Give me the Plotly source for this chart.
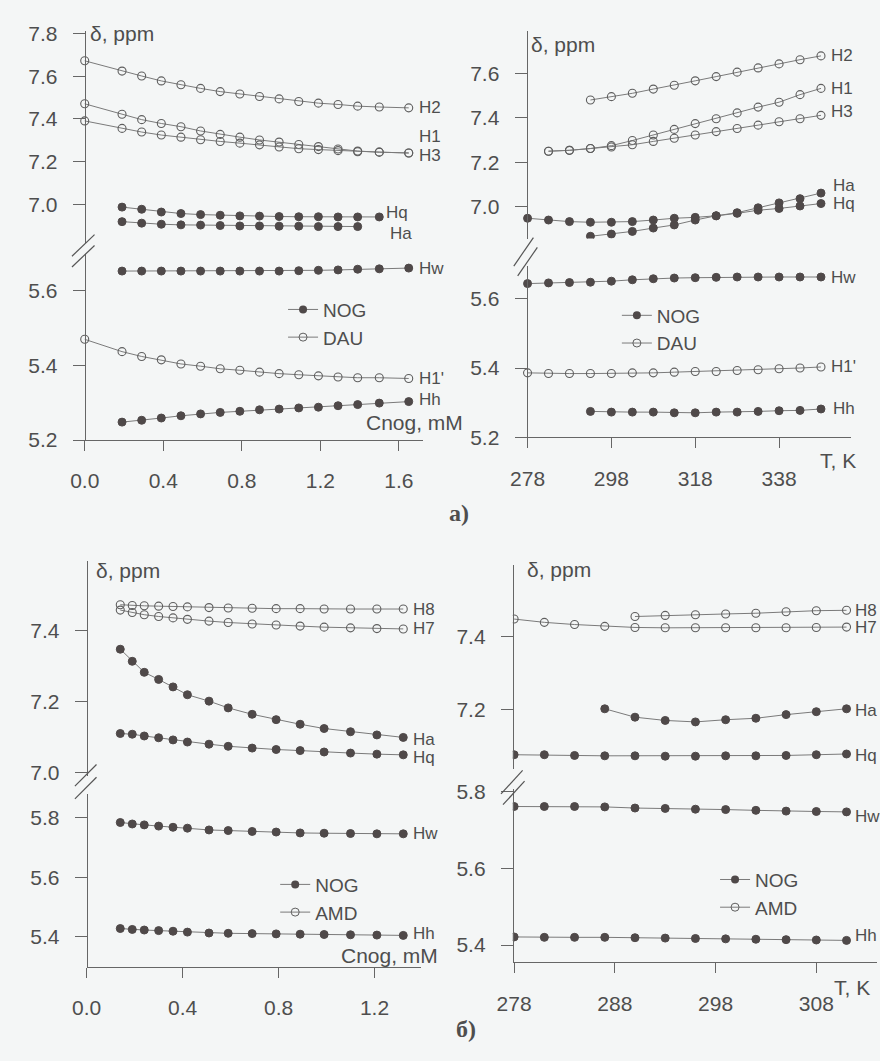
import plotly.graph_objects as go

W, H = 880, 1061

# ---------------- data: panel a) left (vs concentration) ----------------
C_DAU_A = [0, 0.19, 0.29, 0.39, 0.49, 0.59, 0.69, 0.79, 0.89, 0.99, 1.09, 1.19, 1.29, 1.39, 1.5, 1.65]
C_NOG_A = [0.19, 0.29, 0.39, 0.49, 0.59, 0.69, 0.79, 0.89, 0.99, 1.09, 1.19, 1.29, 1.39, 1.5, 1.65]
aL_H2 = [7.672, 7.624, 7.601, 7.578, 7.560, 7.543, 7.528, 7.517, 7.505, 7.494, 7.482, 7.474, 7.468, 7.460, 7.456, 7.452]
aL_H1 = [7.471, 7.422, 7.397, 7.379, 7.364, 7.344, 7.328, 7.315, 7.302, 7.292, 7.281, 7.271, 7.260, 7.250, 7.245, 7.241]
aL_H3 = [7.391, 7.356, 7.339, 7.325, 7.315, 7.303, 7.295, 7.287, 7.279, 7.269, 7.261, 7.257, 7.252, 7.247, 7.245, 7.241]
aL_H1p = [5.470, 5.437, 5.424, 5.415, 5.404, 5.398, 5.391, 5.387, 5.382, 5.378, 5.375, 5.372, 5.369, 5.367, 5.367, 5.365]
aL_Hq = [6.988, 6.978, 6.965, 6.958, 6.953, 6.950, 6.947, 6.946, 6.944, 6.943, 6.943, 6.942, 6.942, 6.942]
aL_Ha = [6.920, 6.913, 6.908, 6.905, 6.904, 6.902, 6.900, 6.900, 6.899, 6.899, 6.897, 6.897, 6.897]
aL_Hw = [5.653, 5.653, 5.653, 5.653, 5.653, 5.653, 5.653, 5.653, 5.653, 5.654, 5.655, 5.656, 5.658, 5.659, 5.661]
aL_Hh = [5.248, 5.253, 5.259, 5.265, 5.270, 5.274, 5.277, 5.281, 5.283, 5.286, 5.288, 5.292, 5.295, 5.299, 5.303]

# ---------------- data: panel a) right (vs temperature) ----------------
T_A = [278, 283, 288, 293, 298, 303, 308, 313, 318, 323, 328, 333, 338, 343, 348]
aR_H2 = [7.480, 7.495, 7.510, 7.529, 7.546, 7.566, 7.585, 7.605, 7.624, 7.642, 7.661, 7.678]
aR_H1 = [7.250, 7.254, 7.262, 7.275, 7.298, 7.323, 7.348, 7.374, 7.396, 7.422, 7.448, 7.470, 7.504, 7.532]
aR_H3 = [7.250, 7.254, 7.262, 7.269, 7.279, 7.294, 7.308, 7.323, 7.338, 7.352, 7.367, 7.382, 7.396, 7.411]
aR_H1p = [5.386, 5.384, 5.384, 5.384, 5.384, 5.386, 5.386, 5.388, 5.390, 5.390, 5.393, 5.395, 5.398, 5.400, 5.403]
aR_Hq = [6.949, 6.941, 6.934, 6.931, 6.931, 6.934, 6.941, 6.949, 6.953, 6.960, 6.971, 6.985, 6.993, 7.004, 7.015]
aR_Ha = [6.868, 6.878, 6.890, 6.905, 6.919, 6.941, 6.960, 6.974, 6.996, 7.018, 7.037, 7.062]
aR_Hw = [5.643, 5.645, 5.646, 5.647, 5.650, 5.654, 5.657, 5.659, 5.660, 5.661, 5.662, 5.662, 5.662, 5.662, 5.662]
aR_Hh = [5.275, 5.273, 5.273, 5.273, 5.271, 5.271, 5.273, 5.273, 5.275, 5.277, 5.278, 5.282]

# ---------------- data: panel б) left (vs concentration) ----------------
C_B = [0.14, 0.19, 0.24, 0.30, 0.36, 0.42, 0.51, 0.59, 0.69, 0.79, 0.89, 0.99, 1.10, 1.21, 1.32]
bL_H8 = [7.472, 7.470, 7.469, 7.468, 7.467, 7.466, 7.464, 7.463, 7.462, 7.461, 7.461, 7.460, 7.460, 7.460, 7.460]
bL_H7 = [7.457, 7.450, 7.444, 7.439, 7.435, 7.431, 7.426, 7.422, 7.418, 7.415, 7.412, 7.409, 7.407, 7.405, 7.404]
bL_Ha = [7.347, 7.313, 7.282, 7.262, 7.241, 7.219, 7.201, 7.182, 7.164, 7.149, 7.136, 7.124, 7.115, 7.106, 7.099]
bL_Hq = [7.110, 7.108, 7.103, 7.098, 7.092, 7.086, 7.080, 7.074, 7.069, 7.065, 7.062, 7.058, 7.055, 7.052, 7.050]
bL_Hw = [5.784, 5.779, 5.776, 5.772, 5.768, 5.765, 5.759, 5.757, 5.754, 5.752, 5.749, 5.748, 5.747, 5.746, 5.746]
bL_Hh = [5.428, 5.425, 5.423, 5.421, 5.419, 5.416, 5.413, 5.412, 5.411, 5.410, 5.409, 5.408, 5.407, 5.406, 5.405]

# ---------------- data: panel б) right (vs temperature) ----------------
T_B = [278, 281, 284, 287, 290, 293, 296, 299, 302, 305, 308, 311]
bR_H8 = [7.456, 7.459, 7.461, 7.463, 7.465, 7.469, 7.472, 7.473]
bR_H7 = [7.449, 7.440, 7.434, 7.429, 7.426, 7.425, 7.425, 7.425, 7.425, 7.425, 7.426, 7.427]
bR_Ha = [7.203, 7.180, 7.171, 7.167, 7.173, 7.177, 7.187, 7.195, 7.203]
bR_Hq = [7.077, 7.077, 7.075, 7.074, 7.074, 7.073, 7.073, 7.074, 7.074, 7.075, 7.077, 7.079]
bR_Hw = [5.761, 5.761, 5.761, 5.760, 5.757, 5.756, 5.754, 5.753, 5.751, 5.749, 5.748, 5.747]
bR_Hh = [5.421, 5.420, 5.420, 5.420, 5.419, 5.418, 5.417, 5.416, 5.415, 5.414, 5.413, 5.412]

# ---------------- styling ----------------
FONT = "Liberation Sans, Arial, sans-serif"
TXT = "#4e4e4e"
AX = "#666666"
LINE = "#7a7a7a"
FILL = "#4f4949"
BG = "#f4f6f6"


def px_x(p):
    return p / W


def px_y(p):
    return 1 - p / H


fig = go.Figure()
annotations = []
shapes = []


def series(xs, ys, xa, ya, filled, label, dx=8, dy=0, end=False):
    n = len(ys)
    x = xs[:n] if not end else xs[len(xs) - n:]
    if filled:
        marker = dict(symbol="circle", size=8, color=FILL, line=dict(color=FILL, width=1))
    else:
        marker = dict(symbol="circle-open", size=8, color="#5f5f5f", line=dict(width=1.1))
    fig.add_trace(go.Scatter(x=x, y=ys, xaxis=xa, yaxis=ya, mode="lines+markers",
                             line=dict(color=LINE, width=1), marker=marker,
                             showlegend=False, hoverinfo="skip"))
    annotations.append(dict(x=x[-1], y=ys[-1], xref=xa, yref=ya, text=label,
                            showarrow=False, xanchor="left", yanchor="middle",
                            xshift=dx, yshift=dy, font=dict(family=FONT, size=17, color=TXT)))


def legend_entries(xa, ya, legend, second):
    fig.add_trace(go.Scatter(x=[None], y=[None], xaxis=xa, yaxis=ya, mode="lines+markers", name="NOG",
                             line=dict(color=LINE, width=1),
                             marker=dict(symbol="circle", size=8, color=FILL), legend=legend))
    fig.add_trace(go.Scatter(x=[None], y=[None], xaxis=xa, yaxis=ya, mode="lines+markers", name=second,
                             line=dict(color=LINE, width=1),
                             marker=dict(symbol="circle-open", size=8, color="#5f5f5f"), legend=legend))


# panel a left: x (bottom), y (lower), y2 (upper)
series(C_DAU_A, aL_H2, "x", "y2", False, "H2", 8, 0)
series(C_DAU_A, aL_H1, "x", "y2", False, "H1", 8, 16)
series(C_DAU_A, aL_H3, "x", "y2", False, "H3", 8, -3)
series(C_NOG_A, aL_Hq, "x", "y2", True, "Hq", 5, 4)
series(C_NOG_A, aL_Ha, "x", "y2", True, "Ha", 30, -7)
series(C_NOG_A, aL_Hw, "x", "y", True, "Hw", 8, 0)
series(C_DAU_A, aL_H1p, "x", "y", False, "H1'", 8, 0)
series(C_NOG_A, aL_Hh, "x", "y", True, "Hh", 8, 2)
legend_entries("x", "y", "legend", "DAU")

# panel a right: x2, y3 (lower), y4 (upper)
series(T_A, aR_H2, "x2", "y4", False, "H2", 8, 0, end=True)
series(T_A, aR_H1, "x2", "y4", False, "H1", 8, 0, end=True)
series(T_A, aR_H3, "x2", "y4", False, "H3", 8, 4, end=True)
series(T_A, aR_Ha, "x2", "y4", True, "Ha", 10, 8, end=True)
series(T_A, aR_Hq, "x2", "y4", True, "Hq", 10, 0, end=True)
series(T_A, aR_Hw, "x2", "y3", True, "Hw", 8, 0, end=True)
series(T_A, aR_H1p, "x2", "y3", False, "H1'", 8, 0, end=True)
series(T_A, aR_Hh, "x2", "y3", True, "Hh", 10, 0, end=True)
legend_entries("x2", "y3", "legend2", "DAU")

# panel b left: x3, y5 (lower), y6 (upper)
series(C_B, bL_H8, "x3", "y6", False, "H8", 8, 0)
series(C_B, bL_H7, "x3", "y6", False, "H7", 8, 0)
series(C_B, bL_Ha, "x3", "y6", True, "Ha", 8, -2)
series(C_B, bL_Hq, "x3", "y6", True, "Hq", 8, -3)
series(C_B, bL_Hw, "x3", "y5", True, "Hw", 8, 0)
series(C_B, bL_Hh, "x3", "y5", True, "Hh", 8, 2)
legend_entries("x3", "y5", "legend3", "AMD")

# panel b right: x4, y7 (lower), y8 (upper)
series(T_B, bR_H8, "x4", "y8", False, "H8", 6, 0, end=True)
series(T_B, bR_H7, "x4", "y8", False, "H7", 6, 0, end=True)
series(T_B, bR_Ha, "x4", "y8", True, "Ha", 6, -2, end=True)
series(T_B, bR_Hq, "x4", "y8", True, "Hq", 6, -1, end=True)
series(T_B, bR_Hw, "x4", "y7", True, "Hw", 6, -5, end=True)
series(T_B, bR_Hh, "x4", "y7", True, "Hh", 6, 5, end=True)
legend_entries("x4", "y7", "legend4", "AMD")

# ---------------- axes ----------------
tickfont = dict(family=FONT, size=21, color=TXT)


def xaxis(dom_px, rng, anchor, tickvals, fmt):
    return dict(domain=[px_x(dom_px[0]), px_x(dom_px[1])], range=rng, anchor=anchor,
                showline=True, linecolor=AX, linewidth=1, ticks="outside", ticklen=10,
                tickcolor=AX, tickvals=tickvals, ticktext=[fmt.format(v) for v in tickvals],
                ticklabelstandoff=12,
                showgrid=False, zeroline=False, tickfont=tickfont, fixedrange=True)


def yaxis(dom_px, rng, pos_px, tickvals):
    return dict(domain=[px_y(dom_px[1]), px_y(dom_px[0])], range=rng, anchor="free",
                position=px_x(pos_px), showline=True, linecolor=AX, linewidth=1,
                ticks="outside", ticklen=12, tickcolor=AX, tickvals=tickvals,
                ticklabelstandoff=11,
                ticktext=["{:.1f}".format(v) for v in tickvals], showgrid=False,
                zeroline=False, tickfont=tickfont, fixedrange=True)


layout = dict(
    width=W, height=H, margin=dict(l=0, r=0, t=0, b=0),
    paper_bgcolor=BG, plot_bgcolor=BG,
    xaxis=xaxis([58, 415], [-0.06, 1.725], "y", [0, 0.4, 0.8, 1.2, 1.6], "{:.1f}"),
    yaxis=yaxis([250, 439.3], [5.2, 5.698], 70, [5.2, 5.4, 5.6]),
    yaxis2=yaxis([22, 238], [6.8225, 7.8133], 70, [7.0, 7.2, 7.4, 7.6, 7.8]),
    xaxis2=xaxis([510, 850], [275.42, 355.05], "y3", [278, 298, 318, 338], "{:d}"),
    yaxis3=yaxis([262, 436.7], [5.2, 5.6935], 520, [5.2, 5.4, 5.6]),
    yaxis4=yaxis([22, 234], [6.8577, 7.7916], 520, [7.0, 7.2, 7.4, 7.6]),
    xaxis3=xaxis([72, 413], [0.0, 1.396], "y5", [0, 0.4, 0.8, 1.2], "{:.1f}"),
    yaxis5=yaxis([800, 976], [5.3002, 5.880], 72, [5.4, 5.6, 5.8]),
    yaxis6=yaxis([563, 782], [6.9898, 7.5939], 72, [7.0, 7.2, 7.4]),
    xaxis4=xaxis([506, 877], [277.87, 314.03], "y7", [278, 288, 298, 308], "{:d}"),
    yaxis7=yaxis([795, 971.7], [5.3547, 5.8066], 506, [5.4, 5.6, 5.8]),
    yaxis8=yaxis([567, 775], [7.0368, 7.5964], 506, [7.2, 7.4]),
)

legfont = dict(family=FONT, size=19, color=TXT)
for name, lx, ly in [("legend", 272, 287), ("legend2", 612, 293),
                     ("legend3", 264, 873), ("legend4", 712, 868)]:
    layout[name] = dict(x=px_x(lx), y=px_y(ly), xanchor="left", yanchor="top",
                        bgcolor="rgba(0,0,0,0)", font=legfont, tracegroupgap=0,
                        itemclick=False, itemdoubleclick=False)


# axis titles and panel letters
def text(s, x, y, size=21, xanchor="left", family=FONT, bold=False):
    annotations.append(dict(x=px_x(x), y=px_y(y), xref="paper", yref="paper",
                            text=("<b>%s</b>" % s) if bold else s, showarrow=False,
                            xanchor=xanchor, yanchor="middle",
                            font=dict(family=family, size=size, color=TXT)))


text("δ, ppm", 73, 25)
text("δ, ppm", 523, 36)
text("δ, ppm", 79, 572)
text("δ, ppm", 518, 571)
text("Cnog, mM", 354, 421)
text("Cnog, mM", 329, 965)
text("T, K", 817, 460)
text("T, K", 831, 997)
text("а)", 451, 514, size=24, xanchor="center", family="Liberation Serif, DejaVu Serif, serif", bold=True)
text("б)", 458, 1040, size=24, xanchor="center", family="Liberation Serif, DejaVu Serif, serif", bold=True)


# axis break marks (decoration)
def brk(segs):
    for (x0, y0, x1, y1) in segs:
        shapes.append(dict(type="line", xref="paper", yref="paper",
                           x0=px_x(x0), y0=px_y(y0), x1=px_x(x1), y1=px_y(y1),
                           line=dict(color="#555555", width=1.2)))


brk([(57, 252, 80, 230), (57, 263, 80, 241)])
brk([(507, 262, 527, 233), (511, 272, 531, 243)])
brk([(60, 792, 82, 770), (60, 805, 82, 783)])
brk([(494, 800, 516, 776), (496, 811, 518, 787)])

layout["annotations"] = annotations
layout["shapes"] = shapes
fig.update_layout(**layout)
fig.write_html("out.html", config={"displayModeBar": False},
               post_script="document.body.style.margin='0';document.body.style.background='%s';" % BG)
